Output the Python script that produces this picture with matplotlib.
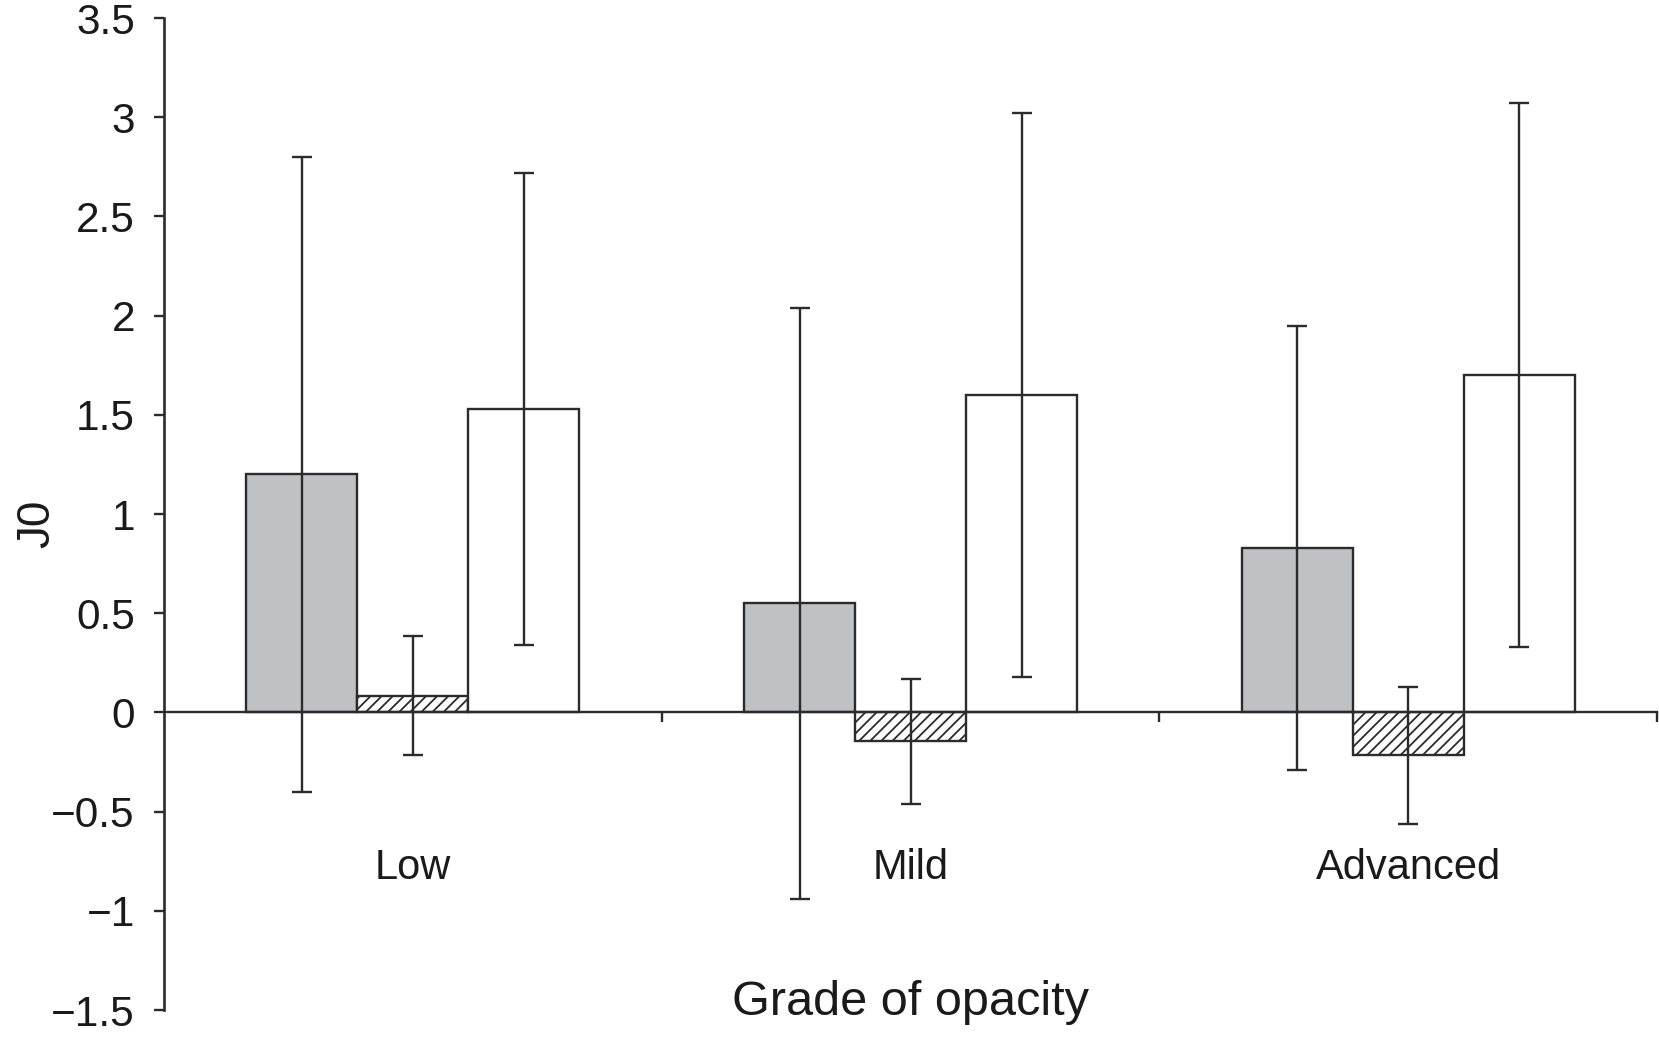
import matplotlib
matplotlib.use("Agg")
import matplotlib.pyplot as plt
import numpy as np

plt.rcParams['font.family'] = ['Liberation Sans', 'DejaVu Sans']
plt.rcParams['hatch.linewidth'] = 1.3

categories = ["Low", "Mild", "Advanced"]
series1 = [1.20, 0.55, 0.83]
series1_err = [1.60, 1.49, 1.12]
series2 = [0.085, -0.145, -0.215]
series2_err = [0.30, 0.315, 0.345]
series3 = [1.53, 1.60, 1.70]
series3_err = [1.19, 1.42, 1.37]
yticks = [-1.5, -1, -0.5, 0, 0.5, 1, 1.5, 2, 2.5, 3, 3.5]
ytick_labels = ["\u22121.5", "\u22121", "\u22120.5", "0", "0.5", "1", "1.5", "2", "2.5", "3", "3.5"]

ink = "#2b2b2b"
fig = plt.figure(figsize=(16.59, 10.43), dpi=100)
ax = fig.add_axes([0.0989, 0.0316, 0.8999, 0.9511])

x = np.arange(len(categories))
w = 0.223
ax.bar(x - w, series1, w, color="#c0c1c3", edgecolor=ink, linewidth=1.7, zorder=2)
ax.bar(x, series2, w, color="white", edgecolor=ink, hatch="///", linewidth=1.7, zorder=2)
ax.bar(x + w, series3, w, color="white", edgecolor=ink, linewidth=1.7, zorder=2)

ekw = dict(fmt="none", ecolor=ink, elinewidth=1.7, capsize=7.5, capthick=1.7, zorder=3)
ax.errorbar(x - w, series1, yerr=series1_err, **ekw)
ax.errorbar(x, series2, yerr=series2_err, **ekw)
ax.errorbar(x + w, series3, yerr=series3_err, **ekw)

ax.set_xlim(-0.5, 2.5)
ax.set_ylim(-1.5, 3.5)
ax.set_yticks(yticks)
ax.set_yticklabels(ytick_labels, fontsize=30.5, color="#1a1a1a")
ax.set_xticks([0.5, 1.5, 2.5])
ax.set_xticklabels([])
ax.tick_params(axis='y', direction='out', length=7, width=1.7, color=ink, pad=14)
ax.tick_params(axis='x', direction='out', length=7, width=1.7, color=ink)

for s in ["top", "right"]:
    ax.spines[s].set_visible(False)
ax.spines["left"].set_color(ink)
ax.spines["left"].set_linewidth(1.9)
ax.spines["bottom"].set_position(("data", 0))
ax.spines["bottom"].set_color(ink)
ax.spines["bottom"].set_linewidth(1.7)
ax.spines["bottom"].set_zorder(4)

for xi, lab in zip(x, categories):
    ax.text(xi, -0.785, lab, ha="center", va="center", fontsize=30, color="#1a1a1a")

ax.text(1, -1.46, "Grade of opacity", ha="center", va="center", fontsize=35, color="#1a1a1a")
fig.text(37 / 1659, 1 - 524 / 1043, "J0", rotation=90, ha="center", va="center",
         fontsize=33, color="#1a1a1a")

fig.savefig("out.png", dpi=100)
